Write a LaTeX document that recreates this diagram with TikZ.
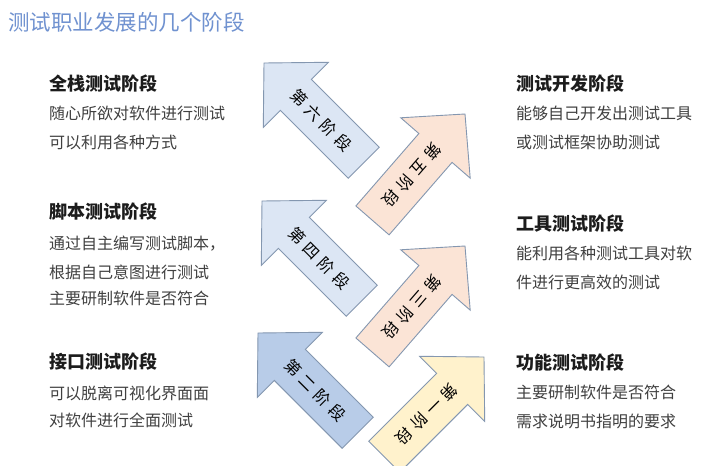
\documentclass[tikz,border=0pt]{standalone}
\usepackage{fontspec}
\newfontfamily\cjk{Noto Sans CJK SC}
\definecolor{titleblue}{RGB}{112,146,208}
\definecolor{arrowline}{RGB}{132,151,176}
\definecolor{lightblue}{RGB}{220,230,244}
\definecolor{midblue}{RGB}{184,204,232}
\definecolor{peach}{RGB}{251,228,214}
\definecolor{lightyellow}{RGB}{255,242,204}
\definecolor{headtext}{RGB}{28,28,28}
\definecolor{bodytext}{RGB}{64,64,64}
\tikzset{
  arrowshape/.style={draw=arrowline, line width=0.9pt, line join=miter},
  arrowlabel/.style={inner sep=0pt, text=black, font=\cjk\fontsize{16}{16}\selectfont},
  headline/.style={anchor=base west, inner sep=0pt, text=headtext, font=\cjk\bfseries\fontsize{18}{18}\selectfont},
  bodyline/.style={anchor=base west, inner sep=0pt, text=bodytext, font=\cjk\fontsize{16}{16}\selectfont},
  titletext/.style={anchor=base west, inner sep=0pt, text=titleblue, font=\cjk\fontsize{21.5}{21.5}\selectfont}
}
% #1 name, #2 tip, #3 angle, #4 fill, #5 label
\newcommand\stagearrowdraw[5]{%
  \begin{scope}[shift={#2}, rotate=#3]
    \draw[arrowshape, fill=#4] (0,0) -- (-45,46) -- (-45,22) -- (-141,22) -- (-141,-22) -- (-45,-22) -- (-45,-46) -- cycle;
    \node[arrowlabel, rotate={#3+180}] (#1) at (-81,0) {#5};
  \end{scope}}
\newcommand\jiange{\hspace{5pt}}
\begin{document}
\begin{tikzpicture}[x=1pt, y=-1pt]
  \useasboundingbox (0,0) rectangle (716,466);
  \fill[white] (0,0) rectangle (716,466);
  \clip (0,0) rectangle (716,466);

  \node[titletext] (title) at (8,30) {测试职业发展的几个阶段};

  % arrows
  \stagearrowdraw{a6}{(264,63)}{135}{lightblue}{第\jiange 六\jiange 阶\jiange 段}
  \stagearrowdraw{a5}{(465,114)}{49}{peach}{第\jiange 五\jiange 阶\jiange 段}
  \stagearrowdraw{a4}{(262,201)}{135}{lightblue}{第\jiange 四\jiange 阶\jiange 段}
  \stagearrowdraw{a3}{(465,246)}{49}{peach}{第\jiange 三\jiange 阶\jiange 段}
  \stagearrowdraw{a2}{(258,333)}{135}{midblue}{第\jiange 二\jiange 阶\jiange 段}
  \stagearrowdraw{a1}{(484,357)}{45}{lightyellow}{第\jiange 一\jiange 阶\jiange 段}

  % left blocks
  \node[headline] (h6) at (49,90) {全栈测试阶段};
  \node[bodyline] (b6a) at (49,119.5) {随心所欲对软件进行测试};
  \node[bodyline] (b6b) at (49,148) {可以利用各种方式};

  \node[headline] (h4) at (49,218.5) {脚本测试阶段};
  \node[bodyline] (b4a) at (49,249.5) {通过自主编写测试脚本，};
  \node[bodyline] (b4b) at (49,278) {根据自己意图进行测试};
  \node[bodyline] (b4c) at (49,304.5) {主要研制软件是否符合};

  \node[headline] (h2) at (49,368.5) {接口测试阶段};
  \node[bodyline] (b2a) at (49,399.5) {可以脱离可视化界面面};
  \node[bodyline] (b2b) at (49,426) {对软件进行全面测试};

  % right blocks
  \node[headline] (h5) at (516,90) {测试开发阶段};
  \node[bodyline] (b5a) at (516,119.5) {能够自己开发出测试工具};
  \node[bodyline] (b5b) at (516,148) {或测试框架协助测试};

  \node[headline] (h3) at (516,230) {工具测试阶段};
  \node[bodyline] (b3a) at (516,259.5) {能利用各种测试工具对软};
  \node[bodyline] (b3b) at (516,288) {件进行更高效的测试};

  \node[headline] (h1) at (516,369) {功能测试阶段};
  \node[bodyline] (b1a) at (516,398) {主要研制软件是否符合};
  \node[bodyline] (b1b) at (516,427.5) {需求说明书指明的要求};
\end{tikzpicture}
\end{document}
